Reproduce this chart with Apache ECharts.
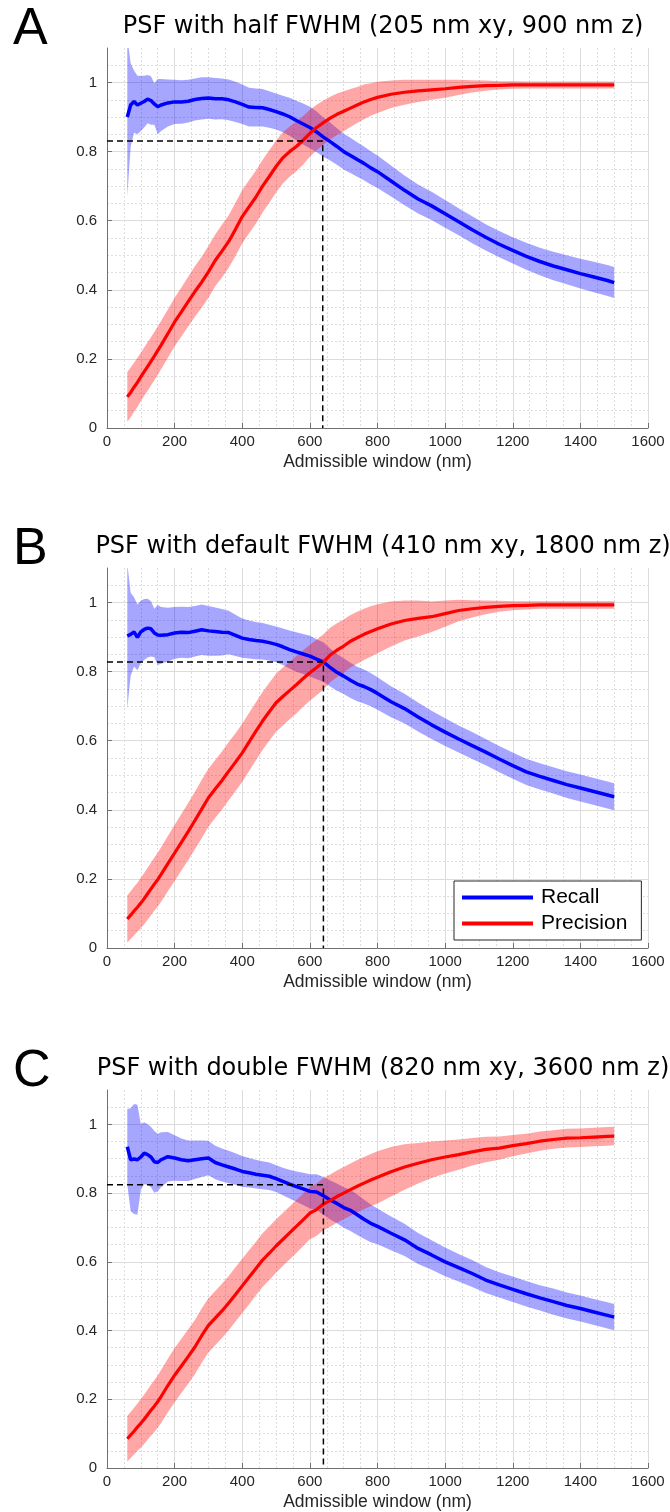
<!DOCTYPE html>
<html>
<head>
<meta charset="utf-8">
<script src="https://cdn.jsdelivr.net/npm/echarts@6/dist/echarts.min.js"></script>
<style>
  html, body { margin: 0; background: #fff; }
  #chart { width: 670px; height: 1512px; }
</style>
</head>
<body>
<div id="chart"></div>
<script>
// admissible window (nm), shared by every curve
var windowNm = [60, 70, 80, 90, 100, 110, 120, 130, 140, 150, 160,
  180, 200, 220, 240, 260, 280, 300, 320, 340, 360, 380, 400, 420, 440, 460, 480, 500,
  520, 540, 560, 580, 600, 620, 640, 660, 680, 700, 720, 740, 760, 780, 800,
  840, 880, 920, 960, 1000, 1040, 1080, 1120, 1160, 1200, 1240, 1280, 1320, 1360, 1400, 1440, 1480, 1500];

var xTicks = [0, 200, 400, 600, 800, 1000, 1200, 1400, 1600];
var yTicks = [0, 0.2, 0.4, 0.6, 0.8, 1];

// A - half FWHM
var recallA = [0.900, 0.935, 0.945, 0.935, 0.940, 0.945, 0.952, 0.948, 0.938, 0.930, 0.935,
  0.941, 0.944, 0.944, 0.946, 0.951, 0.954, 0.955, 0.953, 0.953, 0.950, 0.944, 0.937, 0.929, 0.928, 0.927, 0.922, 0.916,
  0.909, 0.901, 0.890, 0.880, 0.870, 0.857, 0.842, 0.829, 0.815, 0.800, 0.789, 0.777, 0.766, 0.753, 0.742,
  0.715, 0.688, 0.663, 0.643, 0.620, 0.597, 0.574, 0.552, 0.532, 0.514, 0.497, 0.482, 0.469, 0.458, 0.447, 0.437, 0.427, 0.421];
var recallStdA = [0.230, 0.120, 0.090, 0.085, 0.080, 0.075, 0.070, 0.070, 0.060, 0.080, 0.075,
  0.068, 0.064, 0.063, 0.062, 0.061, 0.061, 0.060, 0.060, 0.059, 0.059, 0.058, 0.057, 0.056, 0.055, 0.054, 0.053, 0.052,
  0.053, 0.055, 0.057, 0.059, 0.060, 0.059, 0.057, 0.055, 0.053, 0.052, 0.051, 0.050, 0.049, 0.048, 0.047,
  0.045, 0.043, 0.042, 0.041, 0.040, 0.039, 0.039, 0.038, 0.038, 0.038, 0.039, 0.040, 0.041, 0.042, 0.043, 0.044, 0.045, 0.045];
var precisionA = [0.090, 0.103, 0.118, 0.132, 0.148, 0.163, 0.178, 0.193, 0.208, 0.224, 0.240,
  0.273, 0.307, 0.336, 0.366, 0.395, 0.422, 0.452, 0.485, 0.512, 0.540, 0.575, 0.612, 0.640, 0.668, 0.700, 0.728, 0.757,
  0.782, 0.800, 0.815, 0.833, 0.853, 0.870, 0.884, 0.897, 0.908, 0.917, 0.926, 0.935, 0.944, 0.951, 0.957,
  0.966, 0.972, 0.976, 0.979, 0.982, 0.986, 0.989, 0.991, 0.992, 0.993, 0.993, 0.993, 0.993, 0.993, 0.993, 0.993, 0.993, 0.993];
var precisionStdA = [0.072, 0.072, 0.071, 0.071, 0.070, 0.070, 0.070, 0.070, 0.070, 0.070, 0.070,
  0.070, 0.070, 0.071, 0.072, 0.073, 0.074, 0.075, 0.075, 0.076, 0.076, 0.077, 0.077, 0.077, 0.077, 0.076, 0.076, 0.075,
  0.074, 0.073, 0.072, 0.070, 0.068, 0.066, 0.064, 0.062, 0.060, 0.058, 0.055, 0.052, 0.050, 0.047, 0.045,
  0.040, 0.036, 0.032, 0.029, 0.026, 0.022, 0.018, 0.015, 0.012, 0.011, 0.010, 0.010, 0.010, 0.010, 0.010, 0.010, 0.010, 0.010];

// B - default FWHM
var recallB = [0.903, 0.908, 0.915, 0.899, 0.915, 0.922, 0.926, 0.924, 0.912, 0.906, 0.905,
  0.907, 0.912, 0.914, 0.913, 0.917, 0.921, 0.918, 0.916, 0.914, 0.913, 0.905, 0.897, 0.893, 0.890, 0.888, 0.884, 0.879,
  0.872, 0.864, 0.857, 0.851, 0.845, 0.836, 0.828, 0.812, 0.798, 0.787, 0.775, 0.764, 0.757, 0.748, 0.737,
  0.713, 0.693, 0.669, 0.646, 0.625, 0.605, 0.586, 0.567, 0.547, 0.528, 0.510, 0.497, 0.485, 0.473, 0.463, 0.453, 0.443, 0.438];
var recallStdB = [0.210, 0.120, 0.100, 0.095, 0.090, 0.088, 0.085, 0.080, 0.070, 0.087, 0.082,
  0.078, 0.075, 0.074, 0.074, 0.073, 0.073, 0.072, 0.070, 0.067, 0.063, 0.060, 0.057, 0.055, 0.054, 0.053, 0.052, 0.052,
  0.053, 0.055, 0.057, 0.058, 0.059, 0.058, 0.057, 0.055, 0.053, 0.052, 0.051, 0.050, 0.049, 0.048, 0.047,
  0.045, 0.043, 0.042, 0.041, 0.040, 0.039, 0.039, 0.038, 0.038, 0.038, 0.038, 0.038, 0.038, 0.039, 0.039, 0.039, 0.039, 0.039];
var precisionB = [0.084, 0.095, 0.107, 0.118, 0.130, 0.143, 0.157, 0.171, 0.185, 0.198, 0.213,
  0.244, 0.275, 0.306, 0.337, 0.369, 0.402, 0.435, 0.460, 0.485, 0.512, 0.538, 0.565, 0.596, 0.627, 0.657, 0.684, 0.710,
  0.728, 0.745, 0.762, 0.780, 0.797, 0.812, 0.828, 0.848, 0.862, 0.874, 0.888, 0.898, 0.908, 0.916, 0.924,
  0.938, 0.948, 0.954, 0.959, 0.968, 0.977, 0.982, 0.986, 0.989, 0.991, 0.992, 0.993, 0.993, 0.993, 0.993, 0.993, 0.993, 0.993];
var precisionStdB = [0.068, 0.069, 0.070, 0.071, 0.073, 0.074, 0.075, 0.076, 0.077, 0.078, 0.079,
  0.080, 0.081, 0.082, 0.083, 0.083, 0.084, 0.084, 0.084, 0.084, 0.084, 0.084, 0.084, 0.084, 0.084, 0.084, 0.084, 0.084,
  0.084, 0.083, 0.083, 0.082, 0.081, 0.080, 0.080, 0.079, 0.078, 0.077, 0.076, 0.075, 0.074, 0.073, 0.071,
  0.065, 0.058, 0.052, 0.044, 0.038, 0.031, 0.025, 0.020, 0.016, 0.013, 0.012, 0.011, 0.011, 0.011, 0.011, 0.011, 0.011, 0.011];

// C - double FWHM
var recallC = [0.935, 0.897, 0.899, 0.897, 0.905, 0.916, 0.912, 0.905, 0.891, 0.889, 0.897,
  0.906, 0.902, 0.897, 0.894, 0.897, 0.900, 0.902, 0.889, 0.882, 0.876, 0.870, 0.863, 0.859, 0.855, 0.852, 0.849, 0.842,
  0.834, 0.826, 0.819, 0.812, 0.805, 0.803, 0.792, 0.780, 0.770, 0.758, 0.750, 0.737, 0.724, 0.712, 0.703,
  0.683, 0.664, 0.639, 0.620, 0.600, 0.583, 0.566, 0.547, 0.533, 0.520, 0.507, 0.495, 0.484, 0.473, 0.464, 0.454, 0.444, 0.439];
var recallStdC = [0.110, 0.150, 0.160, 0.160, 0.095, 0.090, 0.088, 0.088, 0.090, 0.084, 0.080,
  0.072, 0.066, 0.062, 0.059, 0.056, 0.053, 0.050, 0.049, 0.048, 0.047, 0.046, 0.045, 0.043, 0.042, 0.041, 0.040, 0.039,
  0.040, 0.042, 0.044, 0.047, 0.050, 0.052, 0.055, 0.057, 0.058, 0.059, 0.060, 0.059, 0.057, 0.055, 0.052,
  0.049, 0.047, 0.045, 0.043, 0.042, 0.040, 0.039, 0.038, 0.037, 0.037, 0.037, 0.037, 0.038, 0.038, 0.038, 0.038, 0.038, 0.038];
var precisionC = [0.085, 0.096, 0.107, 0.119, 0.130, 0.142, 0.155, 0.168, 0.180, 0.193, 0.208,
  0.240, 0.270, 0.297, 0.324, 0.352, 0.385, 0.415, 0.436, 0.457, 0.480, 0.505, 0.530, 0.555, 0.580, 0.605, 0.625, 0.646,
  0.665, 0.684, 0.703, 0.722, 0.742, 0.752, 0.768, 0.778, 0.790, 0.800, 0.810, 0.820, 0.829, 0.838, 0.846,
  0.862, 0.876, 0.887, 0.897, 0.905, 0.912, 0.920, 0.927, 0.931, 0.938, 0.944, 0.951, 0.956, 0.960, 0.961, 0.963, 0.965, 0.966];
var precisionStdC = [0.066, 0.067, 0.068, 0.069, 0.071, 0.072, 0.073, 0.074, 0.075, 0.076, 0.077,
  0.078, 0.079, 0.079, 0.079, 0.079, 0.079, 0.079, 0.079, 0.079, 0.079, 0.079, 0.079, 0.079, 0.078, 0.078, 0.078, 0.078,
  0.077, 0.077, 0.077, 0.076, 0.076, 0.076, 0.076, 0.076, 0.076, 0.076, 0.076, 0.076, 0.076, 0.076, 0.076,
  0.072, 0.066, 0.059, 0.053, 0.048, 0.044, 0.040, 0.037, 0.034, 0.031, 0.029, 0.028, 0.027, 0.027, 0.027, 0.027, 0.027, 0.027];

// chosen operating point per panel (dashed guides)
var cutX = [638, 640, 640];
var cutY = [0.831, 0.828, 0.824];

var letters = ['A', 'B', 'C'];
var titles = ['PSF with half FWHM (205 nm xy, 900 nm z)',
  'PSF with default FWHM (410 nm xy, 1800 nm z)',
  'PSF with double FWHM (820 nm xy, 3600 nm z)'];

var chart = echarts.init(document.getElementById('chart'));

var panels = [
  {top: 48, recall: recallA, recallSd: recallStdA, precision: precisionA, precisionSd: precisionStdA},
  {top: 568, recall: recallB, recallSd: recallStdB, precision: precisionB, precisionSd: precisionStdB},
  {top: 1090, recall: recallC, recallSd: recallStdC, precision: precisionC, precisionSd: precisionStdC}
];

var tickFont = 'Liberation Sans';

// shaded mean +/- std band, drawn as one polygon
function band(gi, mean, sd, fill) {
  return {
    type: 'custom',
    xAxisIndex: gi,
    yAxisIndex: gi,
    silent: true,
    clip: true,
    data: windowNm.map(function (x, i) { return [x, mean[i] - sd[i], mean[i] + sd[i]]; }),
    encode: {x: 0, y: [1, 2]},
    renderItem: function (params, api) {
      if (params.dataIndex !== 0) return;
      var upper = [], lower = [];
      windowNm.forEach(function (x, i) {
        upper.push(api.coord([x, mean[i] + sd[i]]));
        lower.unshift(api.coord([x, mean[i] - sd[i]]));
      });
      return {
        type: 'polygon',
        shape: {points: upper.concat(lower)},
        style: {fill: fill}
      };
    }
  };
}

function meanLine(gi, name, mean, color, width) {
  return {
    type: 'line',
    name: name,
    xAxisIndex: gi,
    yAxisIndex: gi,
    symbol: 'none',
    silent: true,
    clip: true,
    color: color,
    lineStyle: {color: color, width: width},
    data: windowNm.map(function (x, i) { return [x, mean[i]]; })
  };
}

var grids = [], xAxes = [], yAxes = [], series = [], graphics = [];

panels.forEach(function (p, gi) {
  grids.push({left: 107, top: p.top, width: 541, height: 380});

  xAxes.push({
    gridIndex: gi, type: 'value', min: 0, max: 1600, interval: 200,
    name: 'Admissible window (nm)', nameLocation: 'middle', nameGap: 25,
    nameTextStyle: {fontSize: 17.5, color: '#262626', fontFamily: tickFont},
    axisLine: {lineStyle: {color: '#707070', width: 1}},
    axisTick: {inside: true, length: 5, lineStyle: {color: '#707070'}},
    axisLabel: {fontSize: 15, color: '#262626', margin: 6, fontFamily: tickFont, customValues: xTicks,
      formatter: function (v) { return String(v); }},
    splitLine: {show: true, lineStyle: {color: '#dcdcdc', width: 1}},
    minorTick: {show: false, splitNumber: 4},
    minorSplitLine: {show: true, lineStyle: {color: '#dddddd', type: [2, 2], width: 1}}
  });

  yAxes.push({
    gridIndex: gi, type: 'value', min: 0, max: 1.1, interval: 0.2,
    axisLine: {show: true, lineStyle: {color: '#707070', width: 1}},
    axisTick: {show: true, inside: true, length: 5, lineStyle: {color: '#707070'}, customValues: yTicks},
    axisLabel: {fontSize: 15, color: '#262626', margin: 10, fontFamily: tickFont, customValues: yTicks,
      formatter: function (v) { return String(+v.toFixed(1)); }},
    splitLine: {show: true, lineStyle: {color: '#dcdcdc', width: 1}},
    minorTick: {show: false, splitNumber: 4},
    minorSplitLine: {show: true, lineStyle: {color: '#dddddd', type: [2, 2], width: 1}}
  });

  series.push(band(gi, p.recall, p.recallSd, 'rgba(0,0,255,0.35)'));
  series.push(meanLine(gi, 'Recall', p.recall, '#0000ff', 3.5));
  series.push(band(gi, p.precision, p.precisionSd, 'rgba(255,0,0,0.35)'));
  series.push(meanLine(gi, 'Precision', p.precision, '#ff0000', 3.2));
  series.push({
    type: 'line', xAxisIndex: gi, yAxisIndex: gi, symbol: 'none', silent: true,
    lineStyle: {color: '#000', width: 1.5, type: [6, 4]},
    data: [[0, cutY[gi]], [cutX[gi], cutY[gi]], [cutX[gi], 0]]
  });

  graphics.push({
    type: 'text', left: 13, top: p.top - 44,
    style: {text: letters[gi], fontSize: 52, fontFamily: tickFont, fill: '#000'}
  });
  graphics.push({
    type: 'text', x: 383, y: p.top - 21,
    style: {text: titles[gi], fontSize: 24, fontFamily: 'DejaVu Sans', fill: '#000',
      align: 'center', verticalAlign: 'middle'}
  });
});

chart.setOption({
  backgroundColor: '#fff',
  animation: false,
  grid: grids,
  xAxis: xAxes,
  yAxis: yAxes,
  series: series,
  graphic: graphics,
  legend: {
    data: ['Recall', 'Precision'],
    selectedMode: false,
    orient: 'vertical',
    left: 454, top: 881,
    icon: 'rect',
    itemWidth: 71, itemHeight: 4, itemGap: 5,
    padding: [6, 14, 6, 8],
    backgroundColor: '#fff',
    borderColor: '#262626', borderWidth: 1,
    textStyle: {fontSize: 21, color: '#000', fontFamily: tickFont, padding: [0, 0, 0, 3]}
  }
});
</script>
</body>
</html>
